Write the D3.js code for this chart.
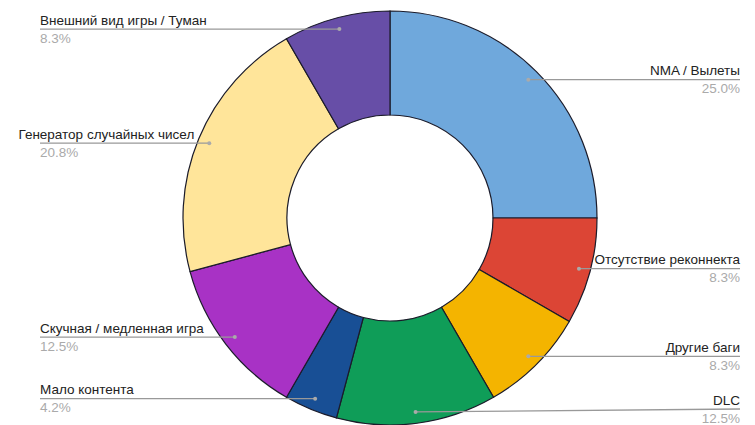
<!DOCTYPE html>
<html><head><meta charset="utf-8">
<script src="https://cdn.jsdelivr.net/npm/d3@7"></script>
<style>html,body{margin:0;padding:0;background:#fff;overflow:hidden}</style>
</head><body>
<svg id="c" width="755" height="425"></svg>
<script>
const categories = ["NMA / Вылеты","Отсутствие реконнекта","Другие баги","DLC","Мало контента","Скучная / медленная игра","Генератор случайных чисел","Внешний вид игры / Туман"];
const values = [6,2,2,3,1,3,5,2];
const percentLabels = ["25.0%","8.3%","8.3%","12.5%","4.2%","12.5%","20.8%","8.3%"];
const colors = ["#6fa8dc","#dc4535","#f4b400","#0f9d58","#184f95","#a832c5","#ffe59a","#674ea7"];

const W=755,H=425, cx=390, cy=218, R=207, r=103;
const svg=d3.select("#c");
const g=svg.append("g").attr("transform",`translate(${cx},${cy})`);
const pie=d3.pie().sort(null).value(d=>d)(values);
const arc=d3.arc().innerRadius(r).outerRadius(R);
g.selectAll("path").data(pie).join("path").attr("d",arc)
  .attr("fill",(d,i)=>colors[i]).attr("stroke","#1b1b2a").attr("stroke-width",1.2);

const font="Arial, 'Liberation Sans', sans-serif";
const fs=13.5;
const dotR=R*0.945;
pie.forEach((d,i)=>{
  const a=(d.startAngle+d.endAngle)/2;
  const px=cx+dotR*Math.sin(a), py=cy-dotR*Math.cos(a);
  const right=px>cx;
  const x2= right?740:40;
  const ly=Math.min(py, H-16);
  svg.append("line").attr("x1",px).attr("y1",py).attr("x2",x2).attr("y2",ly)
    .attr("stroke","#999").attr("stroke-width",1.3);
  svg.append("circle").attr("cx",px).attr("cy",py).attr("r",2).attr("fill","#aaa");
  const anchor = right?"end":"start";
  const t=svg.append("text").attr("x",x2).attr("y",ly-4.5).attr("text-anchor",anchor)
    .attr("font-family",font).attr("font-size",fs).attr("fill","#222").text(categories[i]);
  if(!right){
    const w=t.node().getComputedTextLength();
    if(40+w>px-15) t.attr("x",Math.max(12,px-15-w));
  }
  svg.append("text").attr("x",x2).attr("y",ly+13.5).attr("text-anchor",anchor)
    .attr("font-family",font).attr("font-size",fs).attr("fill","#aaa").text(percentLabels[i]);
});
</script>
</body></html>
